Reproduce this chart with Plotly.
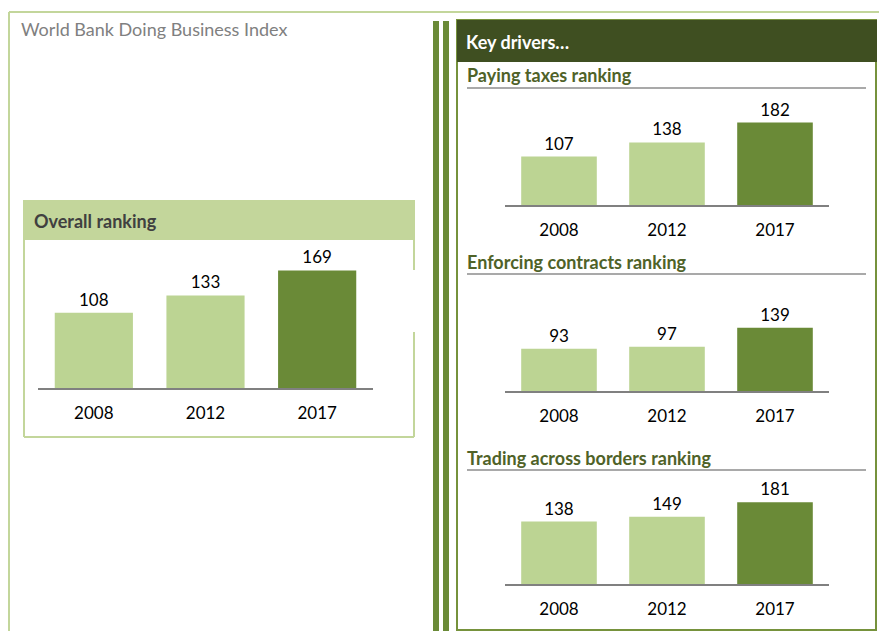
import plotly.graph_objects as go

OFF = 0
W, H = 879, 631

years = ["2008", "2012", "2017"]
overall = [108, 133, 169]
paying_taxes = [107, 138, 182]
enforcing_contracts = [93, 97, 139]
trading_borders = [138, 149, 181]

LIGHT = "#BCD493"
DARK = "#6A8A37"
FRAME = "#C3D69B"
HEADER = "#3F4F21"
TITLE_GREEN = "#4F6228"
FONT = "Lato, Carlito, Calibri, sans-serif"

def px(x):
    return (x - OFF) / W

def py(y):
    return 1 - (y - OFF) / H

bar_colors = [LIGHT, LIGHT, DARK]

# (values, x-domain px, baseline px, top px, px-per-unit)
charts = [
    (overall, (38, 373), 388, 240, 0.696),
    (paying_taxes, (505, 829), 205, 95, 0.453),
    (enforcing_contracts, (505, 829), 391, 285, 0.455),
    (trading_borders, (505, 829), 584, 478, 0.452),
]

fig = go.Figure()
layout_axes = {}
for i, (vals, (x0, x1), base, top, scale) in enumerate(charts):
    n = "" if i == 0 else str(i + 1)
    fig.add_trace(go.Bar(
        x=years, y=vals, xaxis="x" + n, yaxis="y" + n,
        marker=dict(color=bar_colors, line=dict(width=0)),
        width=0.70,
        text=[str(v) for v in vals], textposition="outside",
        textfont=dict(family=FONT, size=17, color="#000000"),
        cliponaxis=False, showlegend=False, hoverinfo="skip",
    ))
    layout_axes["xaxis" + n] = dict(
        domain=[px(x0), px(x1)], anchor="y" + n, type="category",
        range=[-0.5, 2.5], showline=True, linecolor="#808080", linewidth=2,
        showgrid=False, zeroline=False, ticks="outside", ticklen=9,
        tickcolor="rgba(0,0,0,0)",
        tickfont=dict(family=FONT, size=17, color="#000000"), fixedrange=True,
    )
    layout_axes["yaxis" + n] = dict(
        domain=[py(base), py(top)], anchor="x" + n,
        range=[0, (base - top) / scale], visible=False, showgrid=False,
        zeroline=False, fixedrange=True,
    )

shapes = []
def rect(x0, y0, x1, y1, fill=None, line=None, lw=0):
    shapes.append(dict(type="rect", xref="paper", yref="paper",
                       x0=px(x0), x1=px(x1), y0=py(y0), y1=py(y1),
                       fillcolor=fill or "rgba(0,0,0,0)",
                       line=dict(color=line or "rgba(0,0,0,0)", width=lw),
                       layer="below"))

def line(x0, y0, x1, y1, color, lw):
    shapes.append(dict(type="line", xref="paper", yref="paper",
                       x0=px(x0), x1=px(x1), y0=py(y0), y1=py(y1),
                       line=dict(color=color, width=lw), layer="below"))

# outer frame
line(9, 12, 890, 12, FRAME, 2)
line(9, 12, 9, 640, FRAME, 2)
# double vertical bars
rect(433, 21, 439, 640, fill=DARK)
rect(443, 21, 449, 640, fill=DARK)
# right panel
rect(457, 20, 876, 630, line="#76923C", lw=2)
rect(457, 20, 877, 62, fill=HEADER)
# section underlines
for yy in (88, 274, 470):
    line(467, yy, 866, yy, "#8C8C8C", 1.5)
# left box
rect(24, 200, 414, 240, fill=FRAME)
line(24, 200, 24, 437, FRAME, 2)
line(24, 437, 414, 437, FRAME, 2)
line(414, 200, 414, 270, FRAME, 2)
line(414, 332, 414, 437, FRAME, 2)

annotations = []
def text(x, y, s, size, color, bold=False):
    annotations.append(dict(
        xref="paper", yref="paper", x=px(x), y=py(y), xanchor="left",
        yanchor="middle", showarrow=False,
        text=f"<b>{s}</b>" if bold else s,
        font=dict(family=FONT, size=size, color=color),
    ))

text(19, 29, "World Bank Doing Business Index", 18, "#808080")
text(464, 42, "Key drivers…", 18, "#FFFFFF", True)
text(465, 75, "Paying taxes ranking", 18, TITLE_GREEN, True)
text(465, 262, "Enforcing contracts ranking", 18, TITLE_GREEN, True)
text(465, 458, "Trading across borders ranking", 18, TITLE_GREEN, True)
text(32, 221, "Overall ranking", 18, "#404040", True)

fig.update_layout(
    width=W, height=H, margin=dict(l=0, r=0, t=0, b=0),
    paper_bgcolor="#FFFFFF", plot_bgcolor="rgba(0,0,0,0)",
    shapes=shapes, annotations=annotations, bargap=0.3,
    **layout_axes,
)

fig.write_html(
    "out.html",
    config={"displayModeBar": False},
    post_script="document.body.style.margin='0px';document.body.style.overflow='hidden';",
)
